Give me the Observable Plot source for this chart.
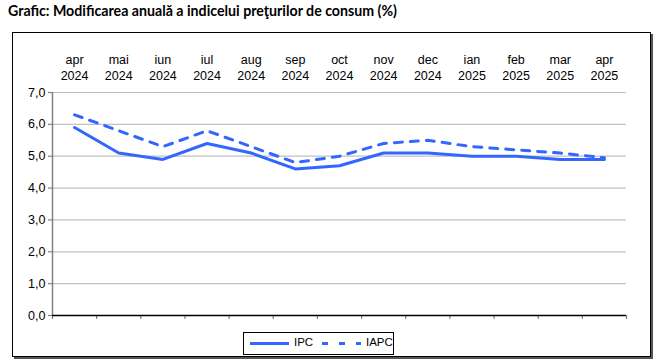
<!DOCTYPE html>
<html>
<head>
<meta charset="utf-8">
<script src="https://cdn.jsdelivr.net/npm/d3@7"></script>
<script src="https://cdn.jsdelivr.net/npm/@observablehq/plot@0.6"></script>
<style>
  html, body { margin: 0; padding: 0; background: #fff; }
  body { width: 663px; height: 362px; position: relative; overflow: hidden; font-family: "Liberation Sans", Arial, sans-serif; }
  #title { position: absolute; left: 8px; top: 2px; font-family: Lato, "Open Sans", sans-serif; font-weight: bold; font-size: 14.2px; color: #000; white-space: nowrap; }
  #frame { position: absolute; left: 12px; top: 32px; width: 637px; height: 323px; border: 1px solid #000; box-shadow: 2px 2px 0 #555; }
  #chart { position: absolute; left: 0; top: 0; }
  #legend { position: absolute; left: 243px; top: 332px; width: 149px; height: 21px; border: 1px solid #000; background: #fff; font-size: 11.5px; }
  #legend svg { position: absolute; left: 0; top: 0; }
  #legend span { position: absolute; top: 3px; }
</style>
</head>
<body>
<div id="title">Grafic: Modificarea anuală a indicelui preţurilor de consum (%)</div>
<div id="frame"></div>
<div id="chart"></div>
<div id="legend">
  <svg width="149" height="21">
    <line x1="6" x2="45" y1="10.5" y2="10.5" stroke="#3366ff" stroke-width="3"></line>
    <line x1="78" x2="117" y1="10.5" y2="10.5" stroke="#3366ff" stroke-width="3" stroke-dasharray="6,11"></line>
  </svg>
  <span style="left:50px">IPC</span>
  <span style="left:122px">IAPC</span>
</div>
<script>
const months = ["apr", "mai", "iun", "iul", "aug", "sep", "oct", "nov", "dec", "ian", "feb", "mar", "apr"];
const years = ["2024", "2024", "2024", "2024", "2024", "2024", "2024", "2024", "2024", "2025", "2025", "2025", "2025"];
const ipc = [5.9, 5.1, 4.9, 5.4, 5.1, 4.6, 4.7, 5.1, 5.1, 5.0, 5.0, 4.9, 4.9];
const iapc = [6.3, 5.8, 5.3, 5.8, 5.3, 4.8, 5.0, 5.4, 5.5, 5.3, 5.2, 5.1, 4.95];
const yTicks = [0, 1, 2, 3, 4, 5, 6, 7];

const idx = months.map((m, i) => i);
const labels = months.map((m, i) => m + "\n" + years[i]);
const ipcData = idx.map(i => ({i: i + 0.5, v: ipc[i]}));
const iapcData = idx.map(i => ({i: i + 0.5, v: iapc[i]}));
const boundaries = d3.range(months.length + 1);
const fmt = d => d3.format(".1f")(d).replace(".", ",");
const blue = "#3366ff";

const chart = Plot.plot({
  width: 663,
  height: 330,
  marginLeft: 52,
  marginRight: 37,
  marginTop: 92,
  marginBottom: 15,
  style: {fontFamily: "'Liberation Sans', Arial, sans-serif", fontSize: "12px", background: "transparent", overflow: "visible"},
  x: {type: "linear", domain: [0, months.length]},
  y: {domain: [0, 7]},
  marks: [
    Plot.gridY(yTicks, {stroke: "#c0c0c0", strokeOpacity: 1, strokeWidth: 1.2}),
    Plot.axisY(yTicks, {tickFormat: fmt, tickSize: 4, tickPadding: 3, stroke: "#808080", strokeWidth: 1.2, fill: "#000", fontSize: 12.5, label: null}),
    Plot.ruleX([0], {stroke: "#808080", strokeWidth: 1.5, y1: 0, y2: 7}),
    Plot.axisX(boundaries, {anchor: "bottom", tickFormat: () => "", tickSize: 4, stroke: "#808080", strokeWidth: 1.2, label: null}),
    Plot.ruleY([0], {stroke: "#000", strokeWidth: 1.3}),
    Plot.text(idx, {x: i => i + 0.5, frameAnchor: "top", text: i => labels[i], lineAnchor: "bottom", lineHeight: 1.25, dy: -13, fontSize: 12.5, fill: "#000"}),
    Plot.line(iapcData, {x: "i", y: "v", stroke: blue, strokeWidth: 3, strokeDasharray: "8,8"}),
    Plot.line(ipcData, {x: "i", y: "v", stroke: blue, strokeWidth: 3})
  ]
});
document.getElementById("chart").appendChild(chart);
</script>
</body>
</html>
